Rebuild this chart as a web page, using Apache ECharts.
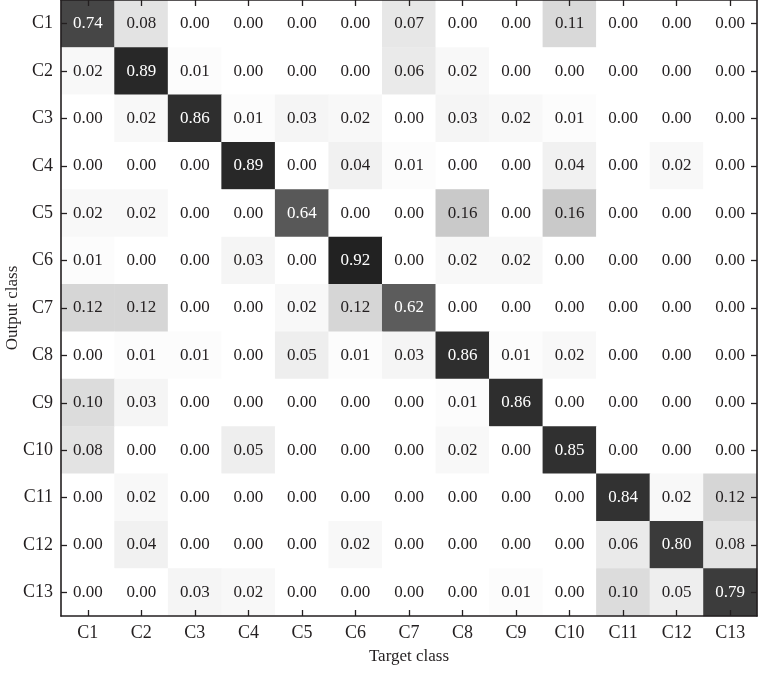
<!DOCTYPE html>
<html>
<head>
<meta charset="utf-8">
<script src="https://cdn.jsdelivr.net/npm/echarts@6/dist/echarts.min.js"></script>
<style>html,body{margin:0;padding:0;background:#fff}#c{width:759px;height:679px}</style>
</head>
<body>
<div id="c"></div>
<script>
const targetClasses = ['C1','C2','C3','C4','C5','C6','C7','C8','C9','C10','C11','C12','C13'];
const outputClasses = ['C1','C2','C3','C4','C5','C6','C7','C8','C9','C10','C11','C12','C13'];
const rowC1  = [0.74,0.08,0.00,0.00,0.00,0.00,0.07,0.00,0.00,0.11,0.00,0.00,0.00];
const rowC2  = [0.02,0.89,0.01,0.00,0.00,0.00,0.06,0.02,0.00,0.00,0.00,0.00,0.00];
const rowC3  = [0.00,0.02,0.86,0.01,0.03,0.02,0.00,0.03,0.02,0.01,0.00,0.00,0.00];
const rowC4  = [0.00,0.00,0.00,0.89,0.00,0.04,0.01,0.00,0.00,0.04,0.00,0.02,0.00];
const rowC5  = [0.02,0.02,0.00,0.00,0.64,0.00,0.00,0.16,0.00,0.16,0.00,0.00,0.00];
const rowC6  = [0.01,0.00,0.00,0.03,0.00,0.92,0.00,0.02,0.02,0.00,0.00,0.00,0.00];
const rowC7  = [0.12,0.12,0.00,0.00,0.02,0.12,0.62,0.00,0.00,0.00,0.00,0.00,0.00];
const rowC8  = [0.00,0.01,0.01,0.00,0.05,0.01,0.03,0.86,0.01,0.02,0.00,0.00,0.00];
const rowC9  = [0.10,0.03,0.00,0.00,0.00,0.00,0.00,0.01,0.86,0.00,0.00,0.00,0.00];
const rowC10 = [0.08,0.00,0.00,0.05,0.00,0.00,0.00,0.02,0.00,0.85,0.00,0.00,0.00];
const rowC11 = [0.00,0.02,0.00,0.00,0.00,0.00,0.00,0.00,0.00,0.00,0.84,0.02,0.12];
const rowC12 = [0.00,0.04,0.00,0.00,0.00,0.02,0.00,0.00,0.00,0.00,0.06,0.80,0.08];
const rowC13 = [0.00,0.00,0.03,0.02,0.00,0.00,0.00,0.00,0.01,0.00,0.10,0.05,0.79];
const rows = [rowC1,rowC2,rowC3,rowC4,rowC5,rowC6,rowC7,rowC8,rowC9,rowC10,rowC11,rowC12,rowC13];

const FONT = '"Liberation Serif", "DejaVu Serif", serif';
const INK = '#231f20';
const data = [];
rows.forEach((r, yi) => r.forEach((v, xi) => {
  data.push({value: [xi, yi, v], label: {color: v > 0.5 ? '#ffffff' : INK}});
}));

const axisCommon = {
  type: 'category',
  z: 10,
  axisLine: {show: true, lineStyle: {color: INK, width: 1.6}},
  axisTick: {show: true, inside: true, alignWithLabel: true, length: 6, lineStyle: {color: INK, width: 1.3}},
  splitLine: {show: false},
  splitArea: {show: false}
};

const chart = echarts.init(document.getElementById('c'));
chart.setOption({
  backgroundColor: '#fff',
  animation: false,
  grid: {left: 61, right: 2, top: 0, bottom: 63, containLabel: false, outerBoundsMode: 'none'},
  xAxis: [
    Object.assign({}, axisCommon, {
      data: targetClasses, position: 'bottom',
      name: 'Target class', nameLocation: 'middle', nameGap: 32,
      nameTextStyle: {fontFamily: FONT, fontSize: 17, color: INK},
      axisLabel: {fontFamily: FONT, fontSize: 18, color: INK, margin: 8}
    }),
    Object.assign({}, axisCommon, {
      data: targetClasses, position: 'top', axisLabel: {show: false}
    })
  ],
  yAxis: [
    Object.assign({}, axisCommon, {
      data: outputClasses, inverse: true, position: 'left',
      name: 'Output class', nameLocation: 'middle', nameGap: 40, nameRotate: 90,
      nameMoveOverlap: false,
      nameTextStyle: {fontFamily: FONT, fontSize: 17, color: INK},
      axisLabel: {fontFamily: FONT, fontSize: 18, color: INK, margin: 8}
    }),
    Object.assign({}, axisCommon, {
      data: outputClasses, inverse: true, position: 'right', axisLabel: {show: false}
    })
  ],
  visualMap: {
    show: false, min: 0, max: 1, dimension: 2, seriesIndex: 0,
    inRange: {color: ['#ffffff','#dcdcdc','#bcbcbc','#a5a5a5','#8f8f8f','#787878','#5f5f5f','#4e4e4e','#3a3a3a','#262626','#141414']}
  },
  series: [{
    type: 'heatmap',
    xAxisIndex: 0, yAxisIndex: 0,
    z: 1,
    data: data,
    label: {show: true, fontFamily: FONT, fontSize: 17,
      formatter: p => p.value[2].toFixed(2)},
    itemStyle: {borderWidth: 0},
    emphasis: {disabled: true}
  }]
});
</script>
</body>
</html>
